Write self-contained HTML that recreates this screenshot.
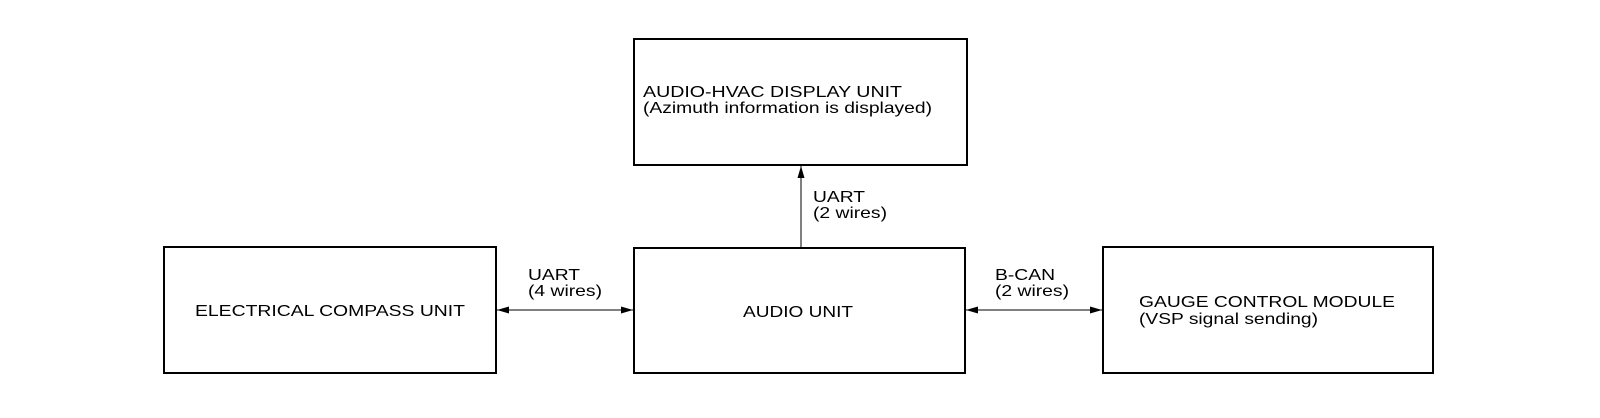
<!DOCTYPE html>
<html><head><meta charset="utf-8"><style>
html,body{margin:0;padding:0;background:#fff;}
svg{display:block;}
text{font-family:"Liberation Sans",Arial,sans-serif;font-size:16px;fill:#000;}
</style></head><body>
<svg width="1600" height="418" viewBox="0 0 1600 418" xmlns="http://www.w3.org/2000/svg">
<g fill="none" stroke="#000" stroke-width="2">
<rect x="164" y="247" width="332" height="126"/>
<rect x="634" y="39" width="333" height="126"/>
<rect x="634" y="248" width="331" height="125"/>
<rect x="1103" y="247" width="330" height="126"/>
</g>
<g stroke="#000" stroke-width="1">
<line x1="497" y1="310" x2="633" y2="310"/>
<line x1="966" y1="310" x2="1102" y2="310"/>
<line x1="801" y1="166" x2="801" y2="247"/>
</g>
<g fill="#000">
<polygon points="497,310 509,306.5 509,313.5"/>
<polygon points="633,310 621,306.5 621,313.5"/>
<polygon points="966,310 978,306.5 978,313.5"/>
<polygon points="1102,310 1090,306.5 1090,313.5"/>
<polygon points="801,166 797.5,178 804.5,178"/>
</g>
<text x="195" y="316" textLength="270" lengthAdjust="spacingAndGlyphs">ELECTRICAL COMPASS UNIT</text>
<text x="528" y="280" textLength="52" lengthAdjust="spacingAndGlyphs">UART</text>
<text x="528" y="296" textLength="74" lengthAdjust="spacingAndGlyphs">(4 wires)</text>
<text x="743" y="317" textLength="110" lengthAdjust="spacingAndGlyphs">AUDIO UNIT</text>
<text x="643" y="97" textLength="259" lengthAdjust="spacingAndGlyphs">AUDIO-HVAC DISPLAY UNIT</text>
<text x="643" y="113" textLength="289" lengthAdjust="spacingAndGlyphs">(Azimuth information is displayed)</text>
<text x="813" y="202" textLength="52" lengthAdjust="spacingAndGlyphs">UART</text>
<text x="813" y="218" textLength="74" lengthAdjust="spacingAndGlyphs">(2 wires)</text>
<text x="995" y="280" textLength="60" lengthAdjust="spacingAndGlyphs">B-CAN</text>
<text x="995" y="296" textLength="74" lengthAdjust="spacingAndGlyphs">(2 wires)</text>
<text x="1139" y="307" textLength="256" lengthAdjust="spacingAndGlyphs">GAUGE CONTROL MODULE</text>
<text x="1139" y="324" textLength="179" lengthAdjust="spacingAndGlyphs">(VSP signal sending)</text>
</svg>
</body></html>
